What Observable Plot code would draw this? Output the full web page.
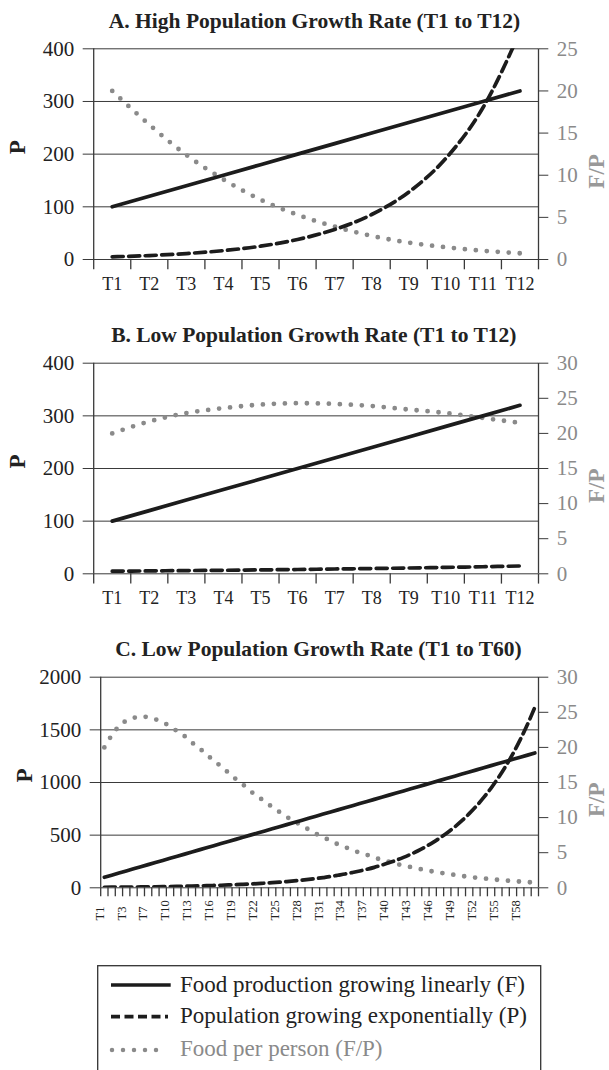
<!DOCTYPE html>
<html><head><meta charset="utf-8">
<script src="https://cdn.jsdelivr.net/npm/d3@7"></script>
<script src="https://cdn.jsdelivr.net/npm/@observablehq/plot@0.6"></script>
<style>
html,body{margin:0;padding:0;background:#fff;}
#root{position:relative;width:609px;height:1070px;overflow:hidden;font-family:"Liberation Serif",serif;color:#222;}
.title{position:absolute;width:600px;text-align:center;font-weight:bold;font-size:21.5px;line-height:21.5px;white-space:nowrap;color:#222;font-family:"Liberation Serif",serif;}
.panel{position:absolute;left:0;}
.panel svg{overflow:visible;font-family:"Liberation Serif",serif !important;}
.panel svg text, #legend text{font-family:"Liberation Serif",serif !important;}
#legend{position:absolute;left:0;top:940px;}
</style></head><body><div id="root"></div>
<script>
// ---------- data ----------
const periods12 = ["T1","T2","T3","T4","T5","T6","T7","T8","T9","T10","T11","T12"];
const tickLabelsC = ["T1","T3","T7","T10","T13","T16","T19","T22","T25","T28","T31","T34","T37","T40","T43","T46","T49","T52","T55","T58"];

const titleA = "A. High Population Growth Rate (T1 to T12)";
const titleB = "B. Low Population Growth Rate (T1 to T12)";
const titleC = "C. Low Population Growth Rate (T1 to T60)";

const foodA = [100,120,140,160,180,200,220,240,260,280,300,320];
const popA  = [5,7.5,11.3,16.9,25.3,38,57,85.4,128,192,288,432];
const fppA  = [20,16,12.4,9.5,7.1,5.3,3.9,2.8,2.0,1.46,1.04,0.74];

const foodB = [100,120,140,160,180,200,220,240,260,280,300,320];
const popB  = [5,5.5,6.1,6.7,7.4,8.2,9.1,10.0,11.0,12.2,13.4,14.8];
const fppB  = [20,21.7,22.9,23.6,24.1,24.3,24.2,23.9,23.4,22.9,22.2,21.5];

const foodC = [100,120,140,160,180,200,220,240,260,280,300,320,340,360,380,400,420,440,460,480,
  500,520,540,560,580,600,620,640,660,680,700,720,740,760,780,800,820,840,860,880,
  900,920,940,960,980,1000,1020,1040,1060,1080,1100,1120,1140,1160,1180,1200,1220,1240,1260,1280];
const popC = [5,5.5,6.1,6.7,7.4,8.2,9.1,10.0,11.0,12.2,13.4,14.8,16.4,18.1,20.0,22.1,24.3,26.9,29.7,32.8,
  36.2,39.9,44.1,48.7,53.7,59.3,65.5,72.3,79.8,88.1,97.3,107,119,131,145,160,176,194,215,237,
  262,289,319,352,389,429,474,523,577,637,704,777,858,947,1046,1154,1274,1407,1553,1715];
const fppC = [20,21.7,23.0,23.8,24.2,24.4,24.3,24.0,23.6,23.0,22.3,21.6,20.7,19.9,19.0,18.1,17.3,16.4,15.5,14.7,
  13.8,13.0,12.3,11.5,10.8,10.1,9.5,8.9,8.3,7.7,7.2,6.7,6.2,5.8,5.4,5.0,4.7,4.3,4.0,3.7,
  3.4,3.2,2.95,2.73,2.52,2.33,2.15,1.99,1.84,1.69,1.56,1.44,1.33,1.22,1.13,1.04,0.96,0.88,0.81,0.75];

const leftTicksA = [0,100,200,300,400];
const rightTicksA = [0,5,10,15,20,25];
const leftTicksB = [0,100,200,300,400];
const rightTicksB = [0,5,10,15,20,25,30];
const leftTicksC = [0,500,1000,1500,2000];
const rightTicksC = [0,5,10,15,20,25,30];

const legendItems = ["Food production growing linearly (F)","Population growing exponentially (P)","Food per person (F/P)"];

// ---------- drawing ----------
const INK = "#1c1c1c", GRID = "#3a3a3a", GREY = "#8a8a8a";
const FONT = "Liberation Serif";
const root = document.getElementById("root");

function addTitle(text, baseline, center) {
  const d = document.createElement("div");
  d.className = "title";
  d.textContent = text;
  d.style.left = (center - 300) + "px";
  d.style.top = (baseline - 0.8375 * 21.5) + "px";
  root.appendChild(d);
}

function panel({top, food, pop, fpp, leftTicks, rightTicks, labels, rotated, marginLeft, marginTop, marginBottom}) {
  const n = food.length;
  const yMax = leftTicks[leftTicks.length - 1];
  const rMax = rightTicks[rightTicks.length - 1];
  const k = yMax / rMax;
  const rows = food.map((f, i) => ({x: i + 0.5, food: f, pop: pop[i], fpp: fpp[i] * k}));
  const marks = [
    Plot.ruleY(leftTicks, {stroke: GRID, strokeWidth: 1}),
    Plot.ruleX([0, n], {stroke: GRID, strokeWidth: 1.3}),
    Plot.axisX({ticks: d3.range(n + 1), tickSize: rotated ? 9 : 10.3, tickFormat: () => "", stroke: GRID, strokeWidth: 1.3, label: null}),
    Plot.axisY({anchor: "left", ticks: leftTicks, tickSize: 10.5, tickPadding: 9, tickFormat: d => String(d), fontSize: 21, fontFamily: FONT, fill: "#222", stroke: GRID, label: null}),
    Plot.axisY({anchor: "right", ticks: rightTicks.map(t => t * k), tickFormat: v => String(Math.round(v / k)), tickSize: 9.3, tickPadding: 9, fontSize: 21, fontFamily: FONT, fill: GREY, stroke: GRID, label: null}),
    Plot.line(rows, {x: "x", y: "fpp", stroke: GREY, strokeWidth: 4.8, strokeDasharray: "0,11", strokeLinecap: "round", curve: "monotone-x", clip: true}),
    Plot.line(rows, {x: "x", y: "pop", stroke: INK, strokeWidth: 3.7, strokeDasharray: "11,5.5", curve: "monotone-x", clip: true}),
    Plot.line(rows, {x: "x", y: "food", stroke: INK, strokeWidth: 3.7, clip: true}),
    Plot.text(["P"], {text: d => d, frameAnchor: "left", dx: -75.7, rotate: -90, fontWeight: "bold", fontSize: 23, fontFamily: FONT, fill: "#222"}),
    Plot.text(["F/P"], {text: d => d, frameAnchor: "right", dx: 58.5, rotate: -90, fontWeight: "bold", fontSize: 23, fontFamily: FONT, fill: "#999"})
  ];
  if (rotated) {
    marks.push(Plot.text(labels, {text: d => d, x: (d, i) => i * 3, frameAnchor: "bottom", dy: 32.7, dx: -1, rotate: -90, textAnchor: "start", lineAnchor: "middle", fontSize: 12.5, fontFamily: FONT, fill: "#222"}));
  } else {
    marks.push(Plot.axisX({ticks: d3.range(n).map(i => i + 0.5), tickSize: 0, tickPadding: 17.5, tickFormat: v => labels[Math.floor(v)], fontSize: 18, fontFamily: FONT, fill: "#222", label: null}));
  }
  const svg = Plot.plot({
    width: 609, height: 300,
    marginLeft, marginRight: 71, marginTop, marginBottom,
    x: {domain: [0, n]},
    y: {domain: [0, yMax]},
    style: {fontFamily: FONT, fontSize: "18px", background: "transparent", overflow: "visible", color: "#222"},
    marks
  });
  const wrap = document.createElement("div");
  wrap.className = "panel";
  wrap.style.top = top + "px";
  wrap.appendChild(svg);
  root.appendChild(wrap);
}

addTitle(titleA, 29.3, 314.5);
panel({top: 0, food: foodA, pop: popA, fpp: fppA, leftTicks: leftTicksA, rightTicks: rightTicksA, labels: periods12, rotated: false, marginLeft: 93.2, marginTop: 48.3, marginBottom: 41});
addTitle(titleB, 343.3, 313.8);
panel({top: 310, food: foodB, pop: popB, fpp: fppB, leftTicks: leftTicksB, rightTicks: rightTicksB, labels: periods12, rotated: false, marginLeft: 93.2, marginTop: 52.7, marginBottom: 36.7});
addTitle(titleC, 656.7, 318.5);
panel({top: 630, food: foodC, pop: popC, fpp: fppC, leftTicks: leftTicksC, rightTicks: rightTicksC, labels: tickLabelsC, rotated: true, marginLeft: 100.2, marginTop: 46.7, marginBottom: 42.7});

// legend
const NS = "http://www.w3.org/2000/svg";
const lg = document.createElementNS(NS, "svg");
lg.setAttribute("id", "legend");
lg.setAttribute("width", 609); lg.setAttribute("height", 130);
function el(tag, attrs, parent) { const e = document.createElementNS(NS, tag); for (const k in attrs) e.setAttribute(k, attrs[k]); (parent || lg).appendChild(e); return e; }
el("rect", {x: 97.7, y: 25.7, width: 443, height: 120, fill: "none", stroke: "#333", "stroke-width": 1.3});
const swatches = [
  {stroke: INK, dash: null, cap: "butt", w: 3.7, x1: 111, x2: 170.7},
  {stroke: INK, dash: "9,4.5", cap: "butt", w: 3.7, x1: 111, x2: 168},
  {stroke: GREY, dash: "0,11", cap: "round", w: 4.5, x1: 112, x2: 167}
];
const rowsY = [45, 76.7, 110], baseY = [51.5, 82.7, 116.3];
legendItems.forEach((t, i) => {
  const s = swatches[i];
  const a = {x1: s.x1, x2: s.x2, y1: rowsY[i], y2: rowsY[i], stroke: s.stroke, "stroke-width": s.w, "stroke-linecap": s.cap};
  if (s.dash) a["stroke-dasharray"] = s.dash;
  el("line", a);
  const tx = el("text", {x: 180, y: baseY[i], "font-family": FONT, "font-size": 23, fill: i === 2 ? GREY : "#222"});
  tx.textContent = t;
});
root.appendChild(lg);
</script>
</body></html>
